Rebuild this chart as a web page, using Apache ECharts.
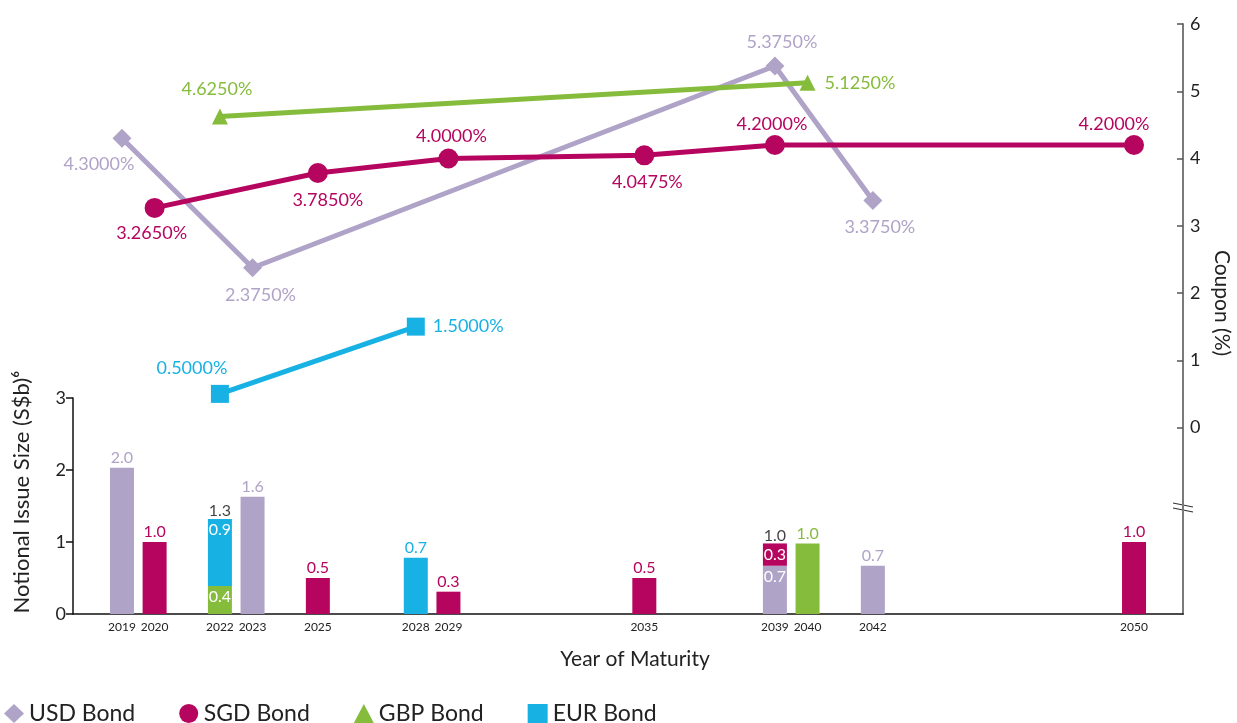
<!DOCTYPE html>
<html>
<head>
<meta charset="utf-8">
<script src="https://cdn.jsdelivr.net/npm/echarts@6/dist/echarts.min.js"></script>
<style>
html,body{margin:0;padding:0;background:#fff;}
#chart{width:1237px;height:723px;}
</style>
</head>
<body>
<div id="chart"></div>
<script>
// years labelled under the axis
var tickYears = ['2019','2020','2022','2023','2025','2028','2029','2035','2039','2040','2042','2050'];

// notional issue size (S$b)
var usdIssueYears = ['2019','2023','2039','2042'];
var usdIssueSize  = [2.03, 1.63, 0.67, 0.67];
var usdIssueText  = ['2.0','1.6','0.7','0.7'];

var sgdIssueYears = ['2020','2025','2029','2035','2039','2050'];
var sgdIssueSize  = [1.0, 0.5, 0.31, 0.5, 0.31, 1.0];
var sgdIssueText  = ['1.0','0.5','0.3','0.5','0.3','1.0'];

var gbpIssueYears = ['2022','2040'];
var gbpIssueSize  = [0.39, 0.98];
var gbpIssueText  = ['0.4','1.0'];

var eurIssueYears = ['2022','2028'];
var eurIssueSize  = [0.93, 0.78];
var eurIssueText  = ['0.9','0.7'];

// years where two currencies are stacked, and the total printed on top
var stackYears = ['2022','2039'];
var stackText  = ['1.3','1.0'];

// coupon (%)
var usdCouponYears = ['2019','2023','2039','2042'];
var usdCoupon      = [4.3, 2.375, 5.375, 3.375];
var sgdCouponYears = ['2020','2025','2029','2035','2039','2050'];
var sgdCoupon      = [3.265, 3.785, 4.0, 4.0475, 4.2, 4.2];
var gbpCouponYears = ['2022','2040'];
var gbpCoupon      = [4.625, 5.125];
var eurCouponYears = ['2022','2028'];
var eurCoupon      = [0.5, 1.5];

var FONT = 'Lato';
var USD = '#b0a3c8', SGD = '#b5055f', GBP = '#86bc3c', EUR = '#17b1e4';

// axis runs one year either side of the data
var axisYears = [];
for (var y = 2018; y <= 2051; y++) axisYears.push(String(y));

// where each coupon label sits around its marker
var usdLabelPos = [['bottom',[-23,2]], ['bottom',[8,4]], ['top',[7,0]], ['bottom',[7,3]]];
var sgdLabelPos = [['bottom',[-3,1]], ['bottom',[10,3]], ['top',[3,2]], ['bottom',[3,3]], ['top',[-3,3]], ['top',[-20,3]]];
var gbpLabelPos = [['top',[-3,-5]], ['right',[4,0]]];
var eurLabelPos = [['top',[-28,-3]], ['right',[3,0]]];

function barData(years, values) {
    return axisYears.map(function (yr) {
        var i = years.indexOf(yr);
        if (i < 0) return '-';
        if (stackYears.indexOf(yr) >= 0) {
            return { value: values[i], label: { position: 'insideTop', distance: 3, color: '#fff' } };
        }
        return values[i];
    });
}

function lineData(years, values, pos) {
    return axisYears.map(function (yr) {
        var i = years.indexOf(yr);
        if (i < 0) return '-';
        return { value: values[i], label: { position: pos[i][0], offset: pos[i][1] } };
    });
}

function barSeries(name, color, years, values, texts) {
    return {
        name: name,
        type: 'bar',
        xAxisIndex: 1,
        yAxisIndex: 1,
        stack: 'issue',
        barWidth: 24,
        itemStyle: { color: color },
        label: {
            show: true,
            position: 'top',
            distance: 2,
            color: color,
            fontFamily: FONT,
            fontSize: 16,
            formatter: function (p) { return texts[years.indexOf(p.name)]; }
        },
        data: barData(years, values)
    };
}

function lineSeries(name, color, symbol, size, years, values, pos) {
    return {
        name: name,
        type: 'line',
        xAxisIndex: 0,
        yAxisIndex: 0,
        connectNulls: true,
        symbol: symbol,
        symbolSize: size,
        z: 5,
        lineStyle: { color: color, width: 5 },
        itemStyle: { color: color },
        label: {
            show: true,
            color: color,
            fontFamily: FONT,
            fontSize: 18,
            formatter: function (p) { return p.value.toFixed(4) + '%'; }
        },
        data: lineData(years, values, pos)
    };
}

// totals on top of stacked bars
var allIssue = [[usdIssueYears, usdIssueSize], [sgdIssueYears, sgdIssueSize], [gbpIssueYears, gbpIssueSize], [eurIssueYears, eurIssueSize]];
var totalData = axisYears.map(function (yr) {
    var k = stackYears.indexOf(yr);
    if (k < 0) return '-';
    var sum = 0;
    allIssue.forEach(function (s) {
        var i = s[0].indexOf(yr);
        if (i >= 0) sum += s[1][i];
    });
    return sum;
});

var option = {
    animation: false,
    textStyle: { fontFamily: FONT },
    legend: {
        left: 4,
        top: 702,
        padding: 0,
        itemWidth: 20,
        itemHeight: 19,
        itemGap: 44,
        textStyle: { fontSize: 23, color: '#222', fontFamily: FONT },
        data: [
            { name: 'USD Bond', icon: 'diamond' },
            { name: 'SGD Bond', icon: 'circle' },
            { name: 'GBP Bond', icon: 'triangle' },
            { name: 'EUR Bond', icon: 'rect' }
        ]
    },
    grid: [
        { left: 73, right: 54, top: 24, bottom: 295.5 },
        { left: 73, right: 54, top: 398, bottom: 109 }
    ],
    xAxis: [
        { type: 'category', gridIndex: 0, data: axisYears, show: false },
        {
            type: 'category',
            gridIndex: 1,
            data: axisYears,
            axisLine: { lineStyle: { color: '#111', width: 1.5 } },
            axisTick: { show: false },
            axisLabel: {
                interval: function (i, v) { return tickYears.indexOf(v) >= 0; },
                color: '#222',
                fontSize: 12,
                margin: 7,
                fontFamily: FONT
            }
        }
    ],
    yAxis: [
        {
            type: 'value',
            gridIndex: 0,
            position: 'right',
            min: 0,
            max: 6,
            interval: 1,
            splitLine: { show: false },
            axisLine: { show: true, lineStyle: { color: '#7a7a7a', width: 2 } },
            axisTick: { show: true, inside: true, length: 6, lineStyle: { color: '#555', width: 1.5 } },
            axisLabel: { color: '#222', fontSize: 18, margin: 7, fontFamily: FONT }
        },
        {
            type: 'value',
            gridIndex: 1,
            position: 'left',
            min: 0,
            max: 3,
            interval: 1,
            splitLine: { show: false },
            axisLine: { show: true, lineStyle: { color: '#111', width: 1.5 } },
            axisTick: { show: true, length: 7, lineStyle: { color: '#111', width: 1.5 } },
            axisLabel: { color: '#222', fontSize: 18, margin: 7, fontFamily: FONT }
        },
        {
            type: 'value',
            gridIndex: 1,
            position: 'right',
            min: 0,
            max: 3,
            splitLine: { show: false },
            axisLine: { show: true, lineStyle: { color: '#7a7a7a', width: 2 } },
            axisTick: { show: false },
            axisLabel: { show: false }
        }
    ],
    graphic: [
        { type: 'text', x: 22, y: 492, rotation: Math.PI / 2,
          style: { text: 'Notional Issue Size (S$b)\u2076', fontSize: 22, fontFamily: FONT, fill: '#222', align: 'center', verticalAlign: 'middle' } },
        { type: 'text', x: 1222, y: 303, rotation: -Math.PI / 2,
          style: { text: 'Coupon (%)', fontSize: 21, fontFamily: FONT, fill: '#222', align: 'center', verticalAlign: 'middle' } },
        { type: 'text', x: 635, y: 659,
          style: { text: 'Year of Maturity', fontSize: 21, fontFamily: FONT, fill: '#222', align: 'center', verticalAlign: 'middle' } },
        { type: 'line', shape: { x1: 1173, y1: 503, x2: 1193, y2: 507 }, style: { stroke: '#333', lineWidth: 1.2 } },
        { type: 'line', shape: { x1: 1173, y1: 508, x2: 1193, y2: 512 }, style: { stroke: '#333', lineWidth: 1.2 } }
    ],
    series: [
        barSeries('USD Bond', USD, usdIssueYears, usdIssueSize, usdIssueText),
        barSeries('GBP Bond', GBP, gbpIssueYears, gbpIssueSize, gbpIssueText),
        barSeries('SGD Bond', SGD, sgdIssueYears, sgdIssueSize, sgdIssueText),
        barSeries('EUR Bond', EUR, eurIssueYears, eurIssueSize, eurIssueText),
        {
            name: 'total',
            type: 'scatter',
            xAxisIndex: 1,
            yAxisIndex: 1,
            symbolSize: 0,
            label: {
                show: true,
                position: 'top',
                distance: 2,
                offset: [0, 2],
                color: '#111',
                fontSize: 16,
                fontFamily: FONT,
                formatter: function (p) { return stackText[stackYears.indexOf(p.name)]; }
            },
            data: totalData
        },
        lineSeries('USD Bond', USD, 'diamond', 19, usdCouponYears, usdCoupon, usdLabelPos),
        lineSeries('SGD Bond', SGD, 'circle', 20, sgdCouponYears, sgdCoupon, sgdLabelPos),
        lineSeries('GBP Bond', GBP, 'triangle', 16, gbpCouponYears, gbpCoupon, gbpLabelPos),
        lineSeries('EUR Bond', EUR, 'rect', 18, eurCouponYears, eurCoupon, eurLabelPos)
    ]
};

var chart = echarts.init(document.getElementById('chart'));
chart.setOption(option);
window.addEventListener('resize', function () {
    chart.resize();
});
</script>
</body>
</html>
